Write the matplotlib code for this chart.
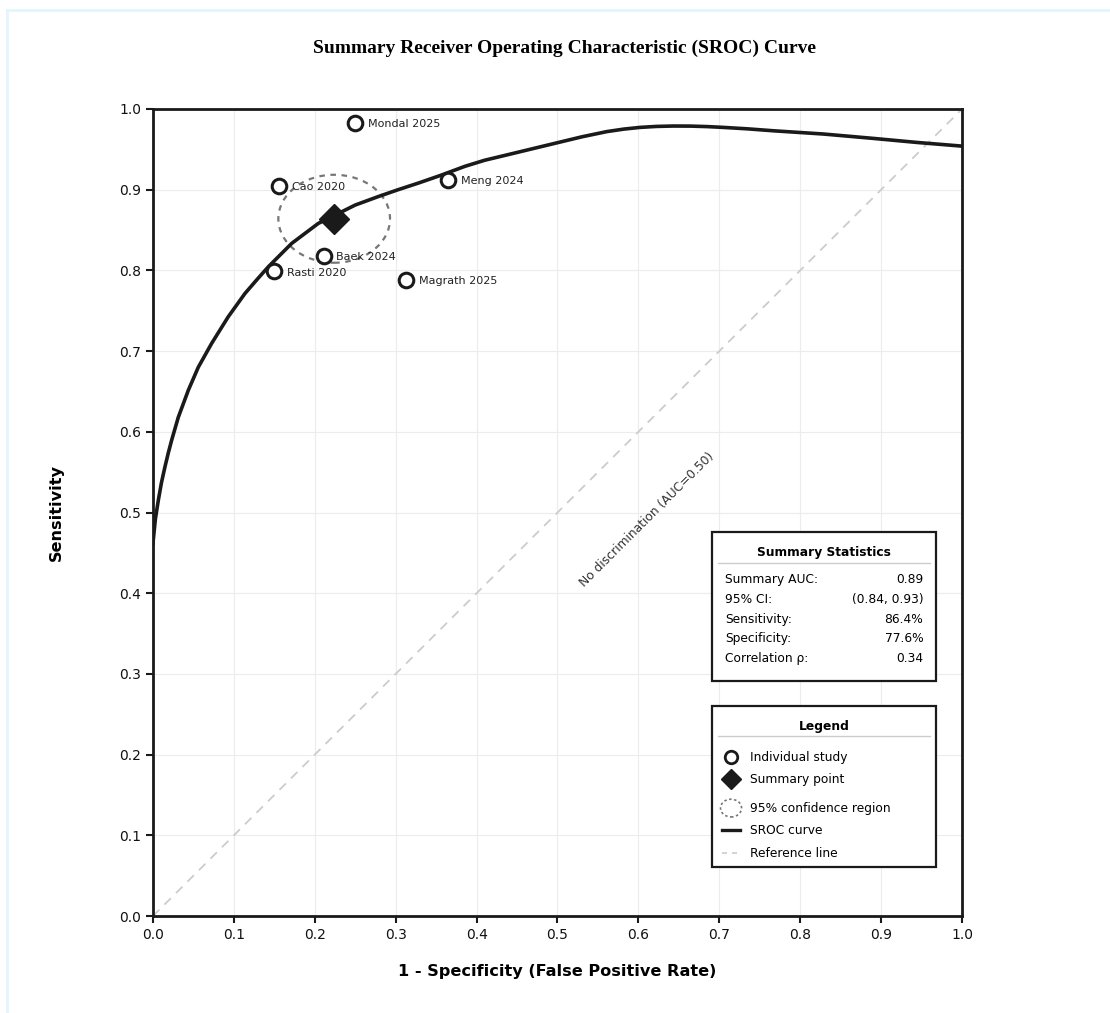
import matplotlib
matplotlib.use("Agg")
import matplotlib.pyplot as plt
from matplotlib.patches import Ellipse, Rectangle
from matplotlib.lines import Line2D

# Daten der Einzelstudien
studies = ["Mondal 2025", "Cao 2020", "Meng 2024", "Baek 2024", "Rasti 2020", "Magrath 2025"]
study_fpr = [0.250, 0.156, 0.365, 0.211, 0.150, 0.313]
study_sens = [0.983, 0.905, 0.912, 0.818, 0.799, 0.788]

# Zusammenfassender Punkt und Konfidenzregion
summary_fpr = 0.224
summary_sens = 0.864
region_width = 0.138
region_height = 0.109

# SROC-Kurve
curve_fpr = [0.0, 0.003, 0.0066, 0.0105, 0.0148, 0.019, 0.0231, 0.0313, 0.0437, 0.056, 0.0725,
             0.093, 0.1137, 0.128, 0.1425, 0.1714, 0.2043, 0.224, 0.25, 0.2785, 0.303, 0.328,
             0.3548, 0.3857, 0.41, 0.437, 0.468, 0.499, 0.53, 0.561, 0.582, 0.602, 0.622,
             0.643, 0.665, 0.685, 0.705, 0.735, 0.767, 0.8286, 0.890, 0.945, 1.0]
curve_tpr = [0.462, 0.492, 0.515, 0.537, 0.5565, 0.574, 0.5896, 0.618, 0.6515, 0.680, 0.7095,
             0.7425, 0.7714, 0.788, 0.8044, 0.8334, 0.8582, 0.868, 0.881, 0.8915, 0.900, 0.9082,
             0.9175, 0.929, 0.9365, 0.943, 0.9505, 0.958, 0.9655, 0.972, 0.9751, 0.9772, 0.9784,
             0.9789, 0.9788, 0.9782, 0.9772, 0.9754, 0.973, 0.969, 0.9636, 0.9585, 0.954]

stat_names = ["Summary AUC:", "95% CI:", "Sensitivity:", "Specificity:", "Correlation \u03c1:"]
stat_values = ["0.89", "(0.84, 0.93)", "86.4%", "77.6%", "0.34"]

legend_labels = ["Individual study", "Summary point", "95% confidence region",
                 "SROC curve", "Reference line"]

DARK = "#1a1a1a"
FS = 8.8

fig = plt.figure(figsize=(11.1, 10.13), dpi=100)
ax = fig.add_axes([0.1378, 0.0957, 0.7289, 0.7967])

# Rahmen der Abbildung (hellblau, oben und links)
fig.add_artist(Line2D([7 / 1110, 7 / 1110], [0, 1 - 10 / 1013], transform=fig.transFigure,
                      color="#e2f5fc", lw=2))
fig.add_artist(Line2D([7 / 1110, 1], [1 - 10 / 1013, 1 - 10 / 1013], transform=fig.transFigure,
                      color="#e2f5fc", lw=2))

# Referenzlinie
ax.plot([0, 1], [0, 1], color="#cccccc", lw=1.3, ls=(0, (5, 4)), zorder=1)
ax.text(0.611, 0.491, "No discrimination (AUC=0.50)", rotation=45, rotation_mode="anchor",
        ha="center", va="center", fontsize=FS, color="#333333")

# SROC-Kurve
ax.plot(curve_fpr, curve_tpr, color=DARK, lw=2.6, zorder=3, solid_joinstyle="round")

# Konfidenzregion
ax.add_patch(Ellipse((summary_fpr, summary_sens), region_width, region_height,
                     fill=False, edgecolor="#777777", lw=1.6, ls=(0, (2.5, 2.5)), zorder=2))

# Einzelstudien
ax.plot(study_fpr, study_sens, "o", ms=10.5, mfc="white", mec=DARK, mew=2.2, ls="none", zorder=4)
for name, xv, yv in zip(studies, study_fpr, study_sens):
    ax.annotate(name, (xv, yv), xytext=(9, -1), textcoords="offset points",
                ha="left", va="center", fontsize=8.0, color="#222222", zorder=5)

# Zusammenfassender Punkt
ax.plot([summary_fpr], [summary_sens], "D", ms=15, color=DARK, zorder=6)

ax.set_xlim(0, 1)
ax.set_ylim(0, 1)
ax.set_xticks([i / 10 for i in range(11)])
ax.set_yticks([i / 10 for i in range(11)])
ax.tick_params(labelsize=10, length=5, width=1.5, color=DARK, labelcolor="#111111")
for sp in ax.spines.values():
    sp.set_linewidth(2)
    sp.set_color(DARK)
ax.grid(True, color="#ececec", lw=0.8)
ax.set_axisbelow(True)

ax.set_xlabel("1 - Specificity (False Positive Rate)", fontsize=11.6, fontweight="bold", labelpad=16)
ax.set_ylabel("Sensitivity", fontsize=11.6, fontweight="bold", labelpad=40)

fig.text(0.5086, 1 - 48 / 1013, "Summary Receiver Operating Characteristic (SROC) Curve",
         ha="center", va="center", fontsize=14, fontweight="bold", family="Liberation Serif")

# Kasten mit Statistiken
tr = ax.transAxes
ax.add_patch(Rectangle((0.691, 0.291), 0.277, 0.185, transform=tr, facecolor="white",
                       edgecolor=DARK, lw=1.6, zorder=7))
ax.text(0.8294, 0.451, "Summary Statistics", transform=tr, ha="center", va="center",
        fontsize=FS, fontweight="bold", zorder=8)
ax.add_line(Line2D([0.698, 0.960], [0.4374, 0.4374], transform=tr, color="#cccccc", lw=1, zorder=8))
row_y = [0.4164, 0.3928, 0.368, 0.3445, 0.3197]
for name, val, yy in zip(stat_names, stat_values, row_y):
    ax.text(0.707, yy, name, transform=tr, ha="left", va="center", fontsize=FS, zorder=8)
    ax.text(0.952, yy, val, transform=tr, ha="right", va="center", fontsize=FS, zorder=8)

# Legende
ax.add_patch(Rectangle((0.691, 0.0607), 0.277, 0.1995, transform=tr, facecolor="white",
                       edgecolor=DARK, lw=1.6, zorder=7))
ax.text(0.8294, 0.2354, "Legend", transform=tr, ha="center", va="center",
        fontsize=FS, fontweight="bold", zorder=8)
ax.add_line(Line2D([0.698, 0.960], [0.2230, 0.2230], transform=tr, color="#cccccc", lw=1, zorder=8))
leg_y = [0.197, 0.1698, 0.1338, 0.1066, 0.0781]
hx = 0.7145
ax.add_line(Line2D([hx], [leg_y[0]], transform=tr, marker="o", ms=9, mfc="white", mec=DARK,
                   mew=2, zorder=8))
ax.add_line(Line2D([hx], [leg_y[1]], transform=tr, marker="D", ms=10, color=DARK, zorder=8))
ax.add_patch(Ellipse((hx, leg_y[2]), 0.026, 0.022, transform=tr, fill=False, edgecolor="#777777",
                     lw=1.2, ls=(0, (1.5, 1.5)), zorder=8))
ax.add_line(Line2D([0.7034, 0.7256], [leg_y[3], leg_y[3]], transform=tr, color=DARK, lw=2.4, zorder=8))
ax.add_line(Line2D([0.7034, 0.7256], [leg_y[4], leg_y[4]], transform=tr, color="#cccccc", lw=1.2,
                   ls=(0, (3, 3)), zorder=8))
for lab, yy in zip(legend_labels, leg_y):
    ax.text(0.738, yy, lab, transform=tr, ha="left", va="center", fontsize=FS, zorder=8)

fig.savefig("out.png", dpi=100, facecolor="white")
